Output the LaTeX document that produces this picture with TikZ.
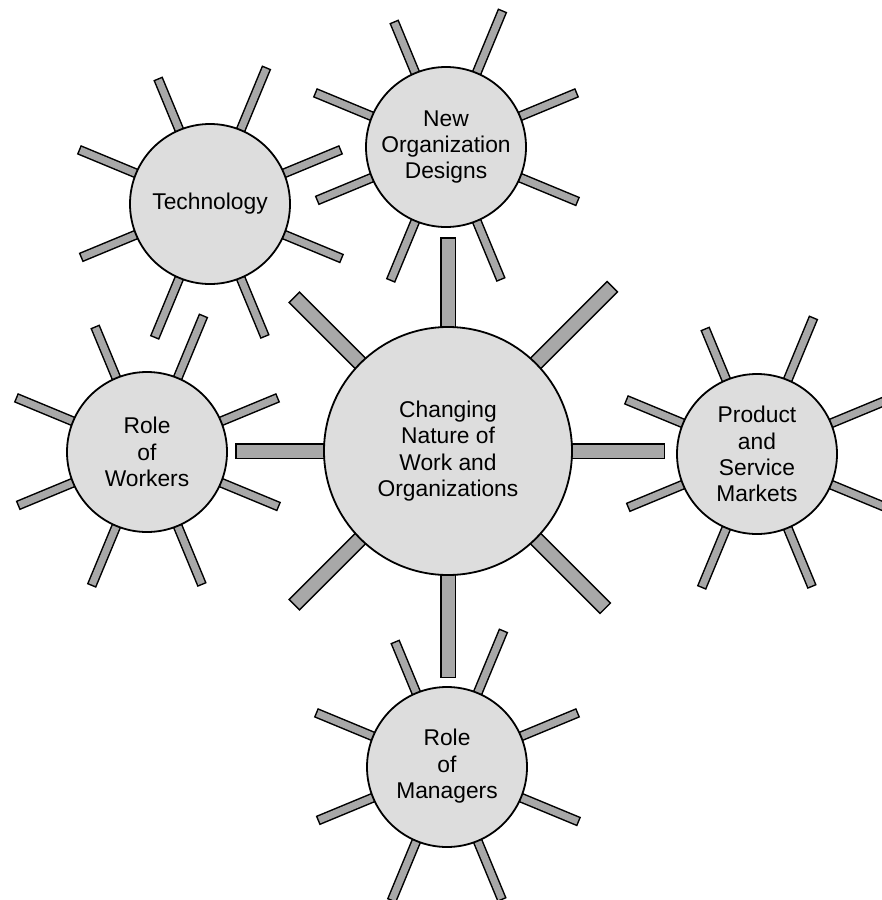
\documentclass[tikz,border=0pt]{standalone}
\usepackage{fontspec}
\setmainfont{Liberation Sans}

\definecolor{discgray}{HTML}{DDDDDD}
\definecolor{raygray}{HTML}{A8A8A8}

\tikzset{
	disc/.style={circle, draw=black, line width=1.8pt, fill=discgray, minimum size=160pt,
		inner sep=0pt, align=center, font=\fontsize{22.8}{26.3}\selectfont},
	hubdisc/.style={disc, minimum size=248pt},
	rayout/.style={black, line width=10pt},
	rayin/.style={raygray, line width=7pt, shorten >=1.5pt},
}

% oito raios em volta de um circulo pequeno
\newcommand{\raios}[1]{%
	\foreach \a/\l in {22.5/142, 67.5/148, 112.5/136, 157.5/142, 202.5/140, 247.5/145, 292.5/144, 337.5/143}{
		\draw[rayout] (#1) -- ++(\a:\l);
		\draw[rayin] (#1) -- ++(\a:\l);
	}}

\begin{document}
\begin{tikzpicture}[x=1pt, y=1pt]
		\useasboundingbox (0,0) rectangle (882,-900);
		\clip (0,0) rectangle (882,-900);
		
		\coordinate (c) at (448,-451);
		\coordinate (tec) at (210,-204);
		\coordinate (org) at (446,-147);
		\coordinate (prod) at (757,-454);
		\coordinate (ger) at (447,-767);
		\coordinate (trab) at (147,-452);
		
		% raios do centro
		\foreach \a/\l in {0/217, 45/233, 90/214, 135/218, 180/213, 225/218, 270/227, 315/223}{
			\draw[rayout, line width=16pt] (c) -- ++(\a:\l);
			\draw[rayin, line width=13pt] (c) -- ++(\a:\l);
		}
		
		% raios dos circulos pequenos
		\raios{tec}
		\raios{org}
		\raios{prod}
		\raios{ger}
		\raios{trab}
		
		\node[hubdisc] (centro) at (c) {Changing\\Nature of\\Work and\\Organizations};
		\node[disc] (tecnologia) at (tec) {Technology};
		\node[disc] (desenhos) at (org) {New\\Organization\\Designs};
		\node[disc] (mercados) at (prod) {Product\\and\\Service\\Markets};
		\node[disc] (gerentes) at (ger) {\raisebox{5pt}{\begin{tabular}{@{}c@{}}Role\\of\\Managers\end{tabular}}};
		\node[disc] (trabalhadores) at (trab) {Role\\of\\Workers};
	\end{tikzpicture}
\end{document}
